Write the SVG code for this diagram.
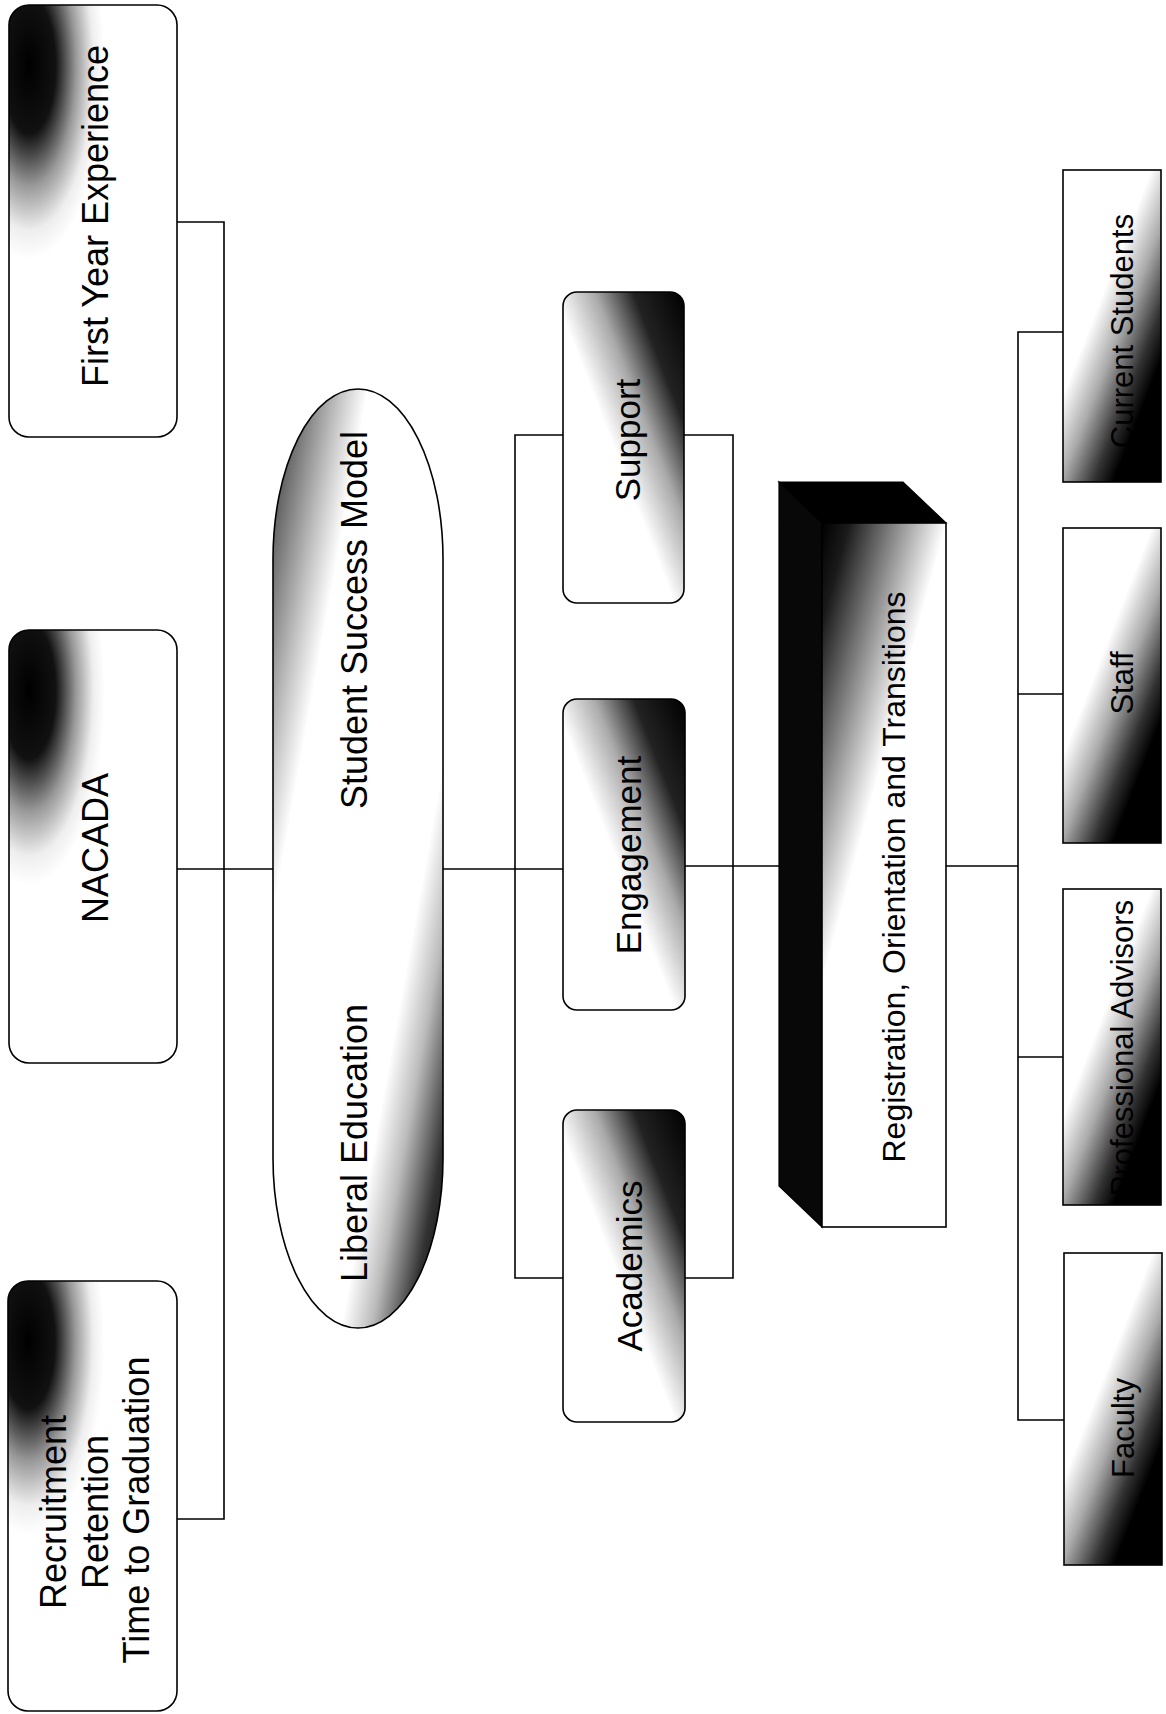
<svg xmlns="http://www.w3.org/2000/svg" width="1166" height="1714" viewBox="0 0 1166 1714">
<style>
  .box { stroke: #000; stroke-width: 1.6; }
  .conn { fill: none; stroke: #000; stroke-width: 1.6; }
  .t36 { font-family: "Liberation Sans", Arial, sans-serif; font-size: 36px; fill: #000; text-anchor: middle; }
  .t35 { font-family: "Liberation Sans", Arial, sans-serif; font-size: 35px; fill: #000; text-anchor: middle; }
  .t32 { font-family: "Liberation Sans", Arial, sans-serif; font-size: 32px; fill: #000; text-anchor: middle; }
  .t31 { font-family: "Liberation Sans", Arial, sans-serif; font-size: 31px; fill: #000; text-anchor: middle; }
</style>
<defs>
  <radialGradient id="gLeft" cx="0.12" cy="0.14" r="0.45">
    <stop offset="0" stop-color="#000"/>
    <stop offset="0.35" stop-color="#111"/>
    <stop offset="0.62" stop-color="#999"/>
    <stop offset="0.85" stop-color="#eee"/>
    <stop offset="1" stop-color="#fff"/>
  </radialGradient>
  <linearGradient id="gMid" x1="0" y1="1" x2="1" y2="0">
    <stop offset="0" stop-color="#fff"/>
    <stop offset="0.46" stop-color="#fff"/>
    <stop offset="0.63" stop-color="#aaa"/>
    <stop offset="0.79" stop-color="#222"/>
    <stop offset="1" stop-color="#000"/>
  </linearGradient>
  <linearGradient id="gRight" x1="0" y1="0" x2="0.8" y2="1">
    <stop offset="0" stop-color="#fff"/>
    <stop offset="0.44" stop-color="#fff"/>
    <stop offset="0.6" stop-color="#aaa"/>
    <stop offset="0.76" stop-color="#333"/>
    <stop offset="0.86" stop-color="#000"/>
    <stop offset="1" stop-color="#000"/>
  </linearGradient>
  <linearGradient id="gEll" x1="0" y1="0" x2="1" y2="1">
    <stop offset="0" stop-color="#444"/>
    <stop offset="0.08" stop-color="#666"/>
    <stop offset="0.2" stop-color="#c4c4c4"/>
    <stop offset="0.28" stop-color="#fff"/>
    <stop offset="0.7" stop-color="#fff"/>
    <stop offset="0.79" stop-color="#bbb"/>
    <stop offset="0.9" stop-color="#333"/>
    <stop offset="1" stop-color="#000"/>
  </linearGradient>
  <linearGradient id="gReg" x1="0" y1="0" x2="0.65" y2="1">
    <stop offset="0" stop-color="#000"/>
    <stop offset="0.1" stop-color="#1a1a1a"/>
    <stop offset="0.3" stop-color="#999"/>
    <stop offset="0.46" stop-color="#fff"/>
    <stop offset="1" stop-color="#fff"/>
  </linearGradient>
</defs>
<rect width="1166" height="1714" fill="#fff"/>

<g id="connectors">
  <path class="conn" d="M177,222 H224 V1519 H177"/>
  <path class="conn" d="M177,869 H273"/>
  <path class="conn" d="M443,869 H563"/>
  <path class="conn" d="M685,866 H779"/>
  <path class="conn" d="M946,866 H1018"/>
  <path class="conn" d="M563,435 H515 V1278 H563"/>
  <path class="conn" d="M684,435 H733 V1278 H685"/>
  <path class="conn" d="M1063,332 H1018 V1420 H1064"/>
  <path class="conn" d="M1018,694 H1063"/>
  <path class="conn" d="M1018,1057 H1063"/>
</g>

<g id="node-first-year">
  <rect class="box" x="9" y="5" width="168" height="432" rx="20" fill="url(#gLeft)"/>
  <text class="t36" transform="translate(108,216) rotate(-90)">First Year Experience</text>
</g>
<g id="node-nacada">
  <rect class="box" x="9" y="630" width="168" height="433" rx="20" fill="url(#gLeft)"/>
  <text class="t36" transform="translate(108,848) rotate(-90)">NACADA</text>
</g>
<g id="node-recruitment">
  <rect class="box" x="8" y="1281" width="169" height="430" rx="20" fill="url(#gLeft)"/>
  <text class="t36" transform="translate(66,1512) rotate(-90)">Recruitment</text>
  <text class="t36" transform="translate(108,1512) rotate(-90)">Retention</text>
  <text class="t36" transform="translate(149,1510) rotate(-90)">Time to Graduation</text>
</g>

<g id="node-model">
  <rect class="box" x="273" y="389" width="170" height="939" rx="85" ry="170" fill="url(#gEll)"/>
  <text class="t36" transform="translate(367,620) rotate(-90)">Student Success Model</text>
  <text class="t36" transform="translate(367,1143) rotate(-90)">Liberal Education</text>
</g>

<g id="node-support">
  <rect class="box" x="563" y="292" width="121" height="311" rx="14" fill="url(#gMid)"/>
  <text class="t35" transform="translate(640,440) rotate(-90)">Support</text>
</g>
<g id="node-engagement">
  <rect class="box" x="563" y="699" width="122" height="311" rx="14" fill="url(#gMid)"/>
  <text class="t35" transform="translate(641,855) rotate(-90)">Engagement</text>
</g>
<g id="node-academics">
  <rect class="box" x="563" y="1110" width="122" height="312" rx="14" fill="url(#gMid)"/>
  <text class="t35" transform="translate(642,1266) rotate(-90)">Academics</text>
</g>

<g id="node-registration">
  <polygon points="779,482 903,482 946,523 822,523" fill="#000" stroke="#000" stroke-width="1.2"/>
  <polygon points="779,482 822,523 822,1227 779,1186" fill="#080808" stroke="#000" stroke-width="1.2"/>
  <rect class="box" x="822" y="523" width="124" height="704" fill="url(#gReg)"/>
  <text class="t32" transform="translate(905,877) rotate(-90)">Registration, Orientation and Transitions</text>
</g>

<g id="node-current-students">
  <rect class="box" x="1063" y="170" width="98" height="312" fill="url(#gRight)"/>
  <text class="t31" transform="translate(1133,331) rotate(-90)">Current Students</text>
</g>
<g id="node-staff">
  <rect class="box" x="1063" y="528" width="98" height="315" fill="url(#gRight)"/>
  <text class="t31" transform="translate(1133,683) rotate(-90)">Staff</text>
</g>
<g id="node-professional-advisors">
  <rect class="box" x="1063" y="889" width="98" height="316" fill="url(#gRight)"/>
  <text class="t31" transform="translate(1133,1048) rotate(-90)">Professional Advisors</text>
</g>
<g id="node-faculty">
  <rect class="box" x="1064" y="1253" width="98" height="312" fill="url(#gRight)"/>
  <text class="t31" transform="translate(1134,1428) rotate(-90)">Faculty</text>
</g>
</svg>
